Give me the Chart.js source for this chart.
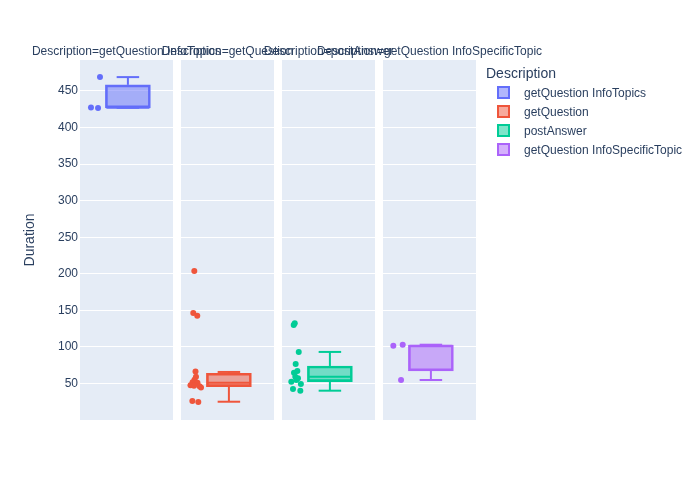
<!DOCTYPE html>
<html>
<head>
<meta charset="utf-8">
<script src="https://cdn.jsdelivr.net/npm/chart.js@4/dist/chart.umd.min.js"></script>
<style>
  html, body { margin: 0; padding: 0; background: #ffffff; }
  #wrap { position: relative; width: 700px; height: 500px; overflow: hidden;
          font-family: "Liberation Sans", Arial, sans-serif; color: #2a3f5f; }
  #wrap canvas { position: absolute; left: 0; top: 0; }
  .ftitle { position: absolute; width: 400px; text-align: center; font-size: 12px;
            line-height: 14px; height: 14px; white-space: nowrap; }
  .ltitle { position: absolute; left: 486px; font-size: 14px; line-height: 18px; white-space: nowrap; }
  .litem { position: absolute; left: 497px; height: 18px; font-size: 12px; line-height: 18px; white-space: nowrap; }
  .lsym { position: absolute; left: 0; top: 2px; width: 9px; height: 9px; border: 2px solid; }
  .ltext { position: absolute; left: 27px; top: 0; }
</style>
</head>
<body>
<div id="wrap"></div>
<script>
// ---------------- data ----------------
const categories = ['getQuestion InfoTopics', 'getQuestion', 'postAnswer', 'getQuestion InfoSpecificTopic'];
const colors = ['#636efa', '#EF553B', '#00cc96', '#ab63fa'];

const durationsInfoTopics = [469, 427.3, 426.8];
const durationsGetQuestion = [203.9, 146.4, 142.7, 66.5, 59, 55, 51.5, 51, 47.5, 47, 46, 44.5, 26, 24.6];
const durationsPostAnswer = [130.0, 132.3, 93.1, 76.6, 64.7, 67.1, 59.3, 57.1, 52.4, 54.7, 49.3, 42.4, 40.1];
const durationsInfoSpecificTopic = [101.7, 103, 54.7];

const q1Values = [427, 45.6, 52.4, 67.1];
const medianValues = [427, 51, 59.3, 101.7];
const q3Values = [458.4, 63.9, 73.9, 102.6];
const lowerWhiskerValues = [427, 25, 40.1, 54.7];
const upperWhiskerValues = [469, 65.7, 93.1, 103];

const yTickValues = [50, 100, 150, 200, 250, 300, 350, 400, 450];

// horizontal jitter of the sample points inside each facet (layout, not data)
const jitterInfoTopics = [-0.285, -0.382, -0.306];
const jitterGetQuestion = [-0.357, -0.368, -0.325, -0.344, -0.339, -0.355, -0.376, -0.323, -0.398, -0.360, -0.301, -0.285, -0.378, -0.314];
const jitterPostAnswer = [-0.374, -0.363, -0.320, -0.353, -0.371, -0.335, -0.357, -0.328, -0.400, -0.346, -0.297, -0.382, -0.303];
const jitterInfoSpecificTopic = [-0.389, -0.288, -0.306];

// ---------------- layout ----------------
const durations = [durationsInfoTopics, durationsGetQuestion, durationsPostAnswer, durationsInfoSpecificTopic];
const jitters = [jitterInfoTopics, jitterGetQuestion, jitterPostAnswer, jitterInfoSpecificTopic];
const facetLeft = [80, 181, 282, 383];
const facetRight = [173, 274, 375, 476];
const plotTop = 60, plotBottom = 420, W = 700, H = 500;
const FONT = '"Liberation Sans", Arial, sans-serif';
const TXT = '#2a3f5f';
const boxCenter = 0.015;
const boxWidthPx = 45;

function rgba(hex, a) {
  const n = parseInt(hex.slice(1), 16);
  return `rgba(${(n >> 16) & 255},${(n >> 8) & 255},${n & 255},${a})`;
}

const bgPlugin = {
  id: 'facetBg',
  beforeDraw(chart) {
    const {ctx, chartArea: a} = chart;
    ctx.save();
    ctx.fillStyle = '#e5ecf6';
    ctx.fillRect(a.left, a.top, a.right - a.left, a.bottom - a.top);
    ctx.restore();
  }
};

const whiskerPlugin = {
  id: 'boxWhisker',
  afterDatasetsDraw(chart, args, o) {
    const {ctx, scales: {x, y}} = chart;
    const cx = x.getPixelForValue(o.center);
    const half = o.width / 2 - 1, cap = o.width / 4;
    ctx.save();
    ctx.strokeStyle = o.color;
    ctx.lineWidth = 2;
    const seg = (x1, y1, x2, y2) => { ctx.beginPath(); ctx.moveTo(x1, y1); ctx.lineTo(x2, y2); ctx.stroke(); };
    const pm = y.getPixelForValue(o.median);
    seg(cx - half, pm, cx + half, pm);
    const p3 = y.getPixelForValue(o.q3), ph = y.getPixelForValue(o.hi);
    if (Math.abs(ph - p3) > 0.5) seg(cx, p3, cx, ph);
    seg(cx - cap, ph, cx + cap, ph);
    const p1 = y.getPixelForValue(o.q1), pl = y.getPixelForValue(o.lo);
    if (Math.abs(pl - p1) > 0.5) seg(cx, p1, cx, pl);
    seg(cx - cap, pl, cx + cap, pl);
    ctx.restore();
  }
};

const wrap = document.getElementById('wrap');

categories.forEach((cat, i) => {
  const cv = document.createElement('canvas');
  cv.width = W; cv.height = H;
  cv.style.width = W + 'px'; cv.style.height = H + 'px';
  wrap.appendChild(cv);
  const first = i === 0;
  new Chart(cv, {
    type: 'scatter',
    data: {
      datasets: [
        {
          type: 'bar',
          label: cat,
          data: [{x: boxCenter, y: [q1Values[i], q3Values[i]]}],
          backgroundColor: rgba(colors[i], 0.5),
          borderColor: colors[i],
          borderWidth: 2,
          borderSkipped: false,
          barThickness: boxWidthPx,
          order: 2
        },
        {
          type: 'scatter',
          label: cat + ' points',
          data: durations[i].map((v, j) => ({x: jitters[i][j], y: v})),
          backgroundColor: colors[i],
          borderWidth: 0,
          pointRadius: 3,
          pointHoverRadius: 3,
          order: 1
        }
      ]
    },
    options: {
      responsive: false,
      animation: false,
      devicePixelRatio: 1,
      events: [],
      layout: { padding: { left: first ? 0 : facetLeft[i], right: W - facetRight[i], top: plotTop, bottom: H - plotBottom } },
      plugins: {
        legend: { display: false },
        tooltip: { enabled: false },
        title: { display: false },
        boxWhisker: {
          center: boxCenter, width: boxWidthPx, color: colors[i],
          q1: q1Values[i], median: medianValues[i], q3: q3Values[i],
          lo: lowerWhiskerValues[i], hi: upperWhiskerValues[i]
        }
      },
      scales: {
        x: { type: 'linear', min: -0.5, max: 0.5, display: false, offset: false, grid: { offset: false } },
        y: {
          type: 'linear', min: 0, max: 492.4, position: 'left',
          afterBuildTicks: s => { s.ticks = yTickValues.map(v => ({value: v})); },
          afterFit: s => { s.width = first ? facetLeft[0] : 0; s.paddingTop = 0; s.paddingBottom = 0; },
          ticks: { display: first, font: { size: 12, family: FONT }, color: TXT, padding: 2 },
          grid: { color: '#ffffff', lineWidth: 1, drawTicks: false },
          border: { display: false },
          title: first ? { display: true, text: 'Duration', font: { size: 14, family: FONT }, color: TXT, padding: { top: 22, bottom: 0 } } : { display: false }
        }
      }
    },
    plugins: [bgPlugin, whiskerPlugin]
  });
});

// facet titles
categories.forEach((cat, i) => {
  const d = document.createElement('div');
  d.className = 'ftitle';
  const c = (facetLeft[i] + facetRight[i]) / 2;
  d.style.left = (c - 200) + 'px';
  d.style.top = '44px';
  d.textContent = 'Description=' + cat;
  wrap.appendChild(d);
});

// legend
const lt = document.createElement('div');
lt.className = 'ltitle';
lt.style.top = '64px';
lt.textContent = 'Description';
wrap.appendChild(lt);
categories.forEach((cat, i) => {
  const it = document.createElement('div');
  it.className = 'litem';
  it.style.top = (84 + i * 19) + 'px';
  const s = document.createElement('span');
  s.className = 'lsym';
  s.style.borderColor = colors[i];
  s.style.background = rgba(colors[i], 0.5);
  const t = document.createElement('span');
  t.className = 'ltext';
  t.textContent = cat;
  it.appendChild(s); it.appendChild(t);
  wrap.appendChild(it);
});
</script>
</body>
</html>
